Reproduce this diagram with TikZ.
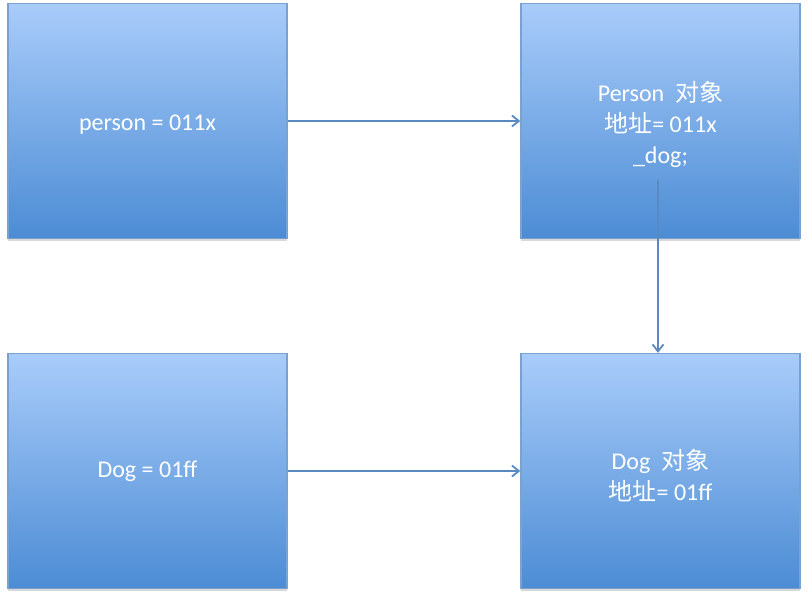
\documentclass[tikz,border=0pt]{standalone}
\usepackage{fontspec}
\setmainfont{Carlito}
\newfontfamily\cjk{Noto Sans CJK SC}
\usetikzlibrary{shadows,arrows.meta}
\definecolor{boxtop}{HTML}{A9CCFA}
\definecolor{boxbot}{HTML}{4C8CD4}
\definecolor{boxedge}{HTML}{7AA2D0}
\definecolor{arrowc}{HTML}{5A8AC2}
\tikzset{
  membox/.style={draw=boxedge, line width=1.3pt, top color=boxtop, bottom color=boxbot,
    minimum width=279pt, minimum height=235pt, inner sep=0pt,
    drop shadow={shadow xshift=0pt, shadow yshift=-2.5pt, opacity=0.25, fill=black!60}},
  boxtext/.style={text=white, align=center, inner sep=0pt, font=\fontsize{24}{31}\selectfont},
  link/.style={draw=arrowc, line width=2pt, -{Straight Barb[length=7pt,width=11pt,line width=1.8pt]}}
}
\begin{document}
\begin{tikzpicture}[x=1pt,y=-1pt]
\useasboundingbox[fill=white] (0,0) rectangle (812,596);
\node[membox] (pvar) at (147.5,121) {};
\node[membox] (pobj) at (660.5,121) {};
\node[membox] (dvar) at (147.5,471) {};
\node[membox] (dobj) at (660.5,471) {};
\node[boxtext] (pvartext) at ([yshift=-4pt]pvar.center) {person = 011x};
\node[boxtext] (pobjtext) at ([yshift=-3pt]pobj.center) {Person\ \ {\cjk 对象}\\{\cjk 地址}= 011x\\\_dog;};
\node[boxtext] (dvartext) at ([yshift=0pt]dvar.center) {Dog = 01ff};
\node[boxtext] (dobjtext) at ([yshift=-5pt]dobj.center) {Dog\ \ {\cjk 对象}\\{\cjk 地址}= 01ff};
\coordinate (dogfield) at (658,180);
\draw[link] (pvar.east) -- (pobj.west);
\draw[link] (dvar.east) -- (dobj.west);
\draw[link] (dogfield) -- (dogfield |- dobj.north);
\end{tikzpicture}
\end{document}
